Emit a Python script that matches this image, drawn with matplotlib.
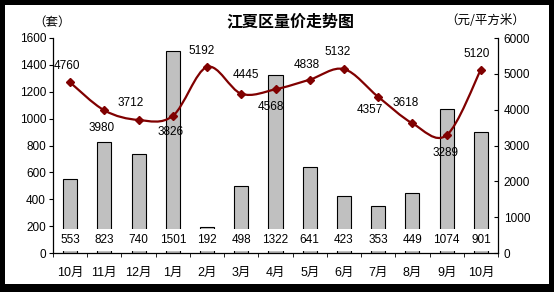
import matplotlib
matplotlib.use("Agg")
import matplotlib.pyplot as plt
from matplotlib.path import Path
from matplotlib.patches import PathPatch, Rectangle
import numpy as np

plt.rcParams['font.family'] = ['Liberation Sans', 'Noto Sans CJK SC']

months = ['10月', '11月', '12月', '1月', '2月', '3月', '4月', '5月', '6月', '7月', '8月', '9月', '10月']
volume = [553, 823, 740, 1501, 192, 498, 1322, 641, 423, 353, 449, 1074, 901]
price = [4760, 3980, 3712, 3826, 5192, 4445, 4568, 4838, 5132, 4357, 3618, 3289, 5120]
# label offsets in pixels (dx, dy with y downward)
price_off = [(-3, -16), (-3, 18), (-8, -17), (-2, 16), (-5, -16), (5, -19), (-5, 18),
             (-3, -15), (-6, -17), (-8, 13), (-7, -20), (-1, 18), (-4, -16)]

W, H = 554, 292
fig = plt.figure(figsize=(W / 100, H / 100), dpi=100)
fig.patch.set_facecolor('black')
bg = Rectangle((5 / W, (H - 284) / H), 544 / W, 279 / H,
               transform=fig.transFigure, facecolor='white', edgecolor='none', zorder=-10)
fig.patches.append(bg)

ax = fig.add_axes([53 / W, (H - 253) / H, (498 - 53) / W, (253 - 38) / H])
ax.set_facecolor('none')
n = len(months)
x = np.arange(n)
ax.bar(x, volume, width=0.41, color='#c0c0c0', edgecolor='black', linewidth=0.8, zorder=2)
ax.set_xlim(-0.5, n - 0.5)
ax.set_ylim(0, 1600)
ax.set_yticks(np.arange(0, 1601, 200))
ax.tick_params(axis='y', direction='out', length=3, labelsize=8.5, pad=2)
ax.set_xticks(x)
ax.set_xticklabels(months, fontsize=9)
ax.tick_params(axis='x', length=0, pad=10)
ax.set_xticks(np.arange(-0.5, n, 1), minor=True)
ax.tick_params(axis='x', which='minor', direction='out', length=3)
for s in ['top', 'right']:
    ax.spines[s].set_visible(False)
for s in ['left', 'bottom']:
    ax.spines[s].set_linewidth(0.9)

for xi, v in zip(x, volume):
    ax.text(xi, 100, str(v), ha='center', va='center', fontsize=8.5, zorder=5,
            bbox=dict(facecolor='white', edgecolor='none', pad=3.6))

ax2 = ax.twinx()
ax2.set_ylim(0, 6000)
ax2.set_yticks(np.arange(0, 6001, 1000))
ax2.tick_params(axis='y', direction='in', length=3, labelsize=8.5, pad=4)
for s in ['top', 'left', 'bottom']:
    ax2.spines[s].set_visible(False)
ax2.spines['right'].set_linewidth(0.9)

# smooth line through the points (Catmull-Rom style Bezier)
pts = np.column_stack([x, price]).astype(float)
verts = [tuple(pts[0])]
codes = [Path.MOVETO]
t = 1 / 6
for i in range(n - 1):
    p0 = pts[i - 1] if i > 0 else pts[i]
    p1 = pts[i]
    p2 = pts[i + 1]
    p3 = pts[i + 2] if i + 2 < n else pts[i + 1]
    c1 = p1 + (p2 - p0) * t
    c2 = p2 - (p3 - p1) * t
    verts += [tuple(c1), tuple(c2), tuple(p2)]
    codes += [Path.CURVE4] * 3
ax2.add_patch(PathPatch(Path(verts, codes), facecolor='none', edgecolor='#800000',
                        linewidth=1.6, zorder=3))
ax2.plot(x, price, linestyle='none', marker='D', markersize=4.5, color='#800000', zorder=4)

for xi, v, (dx, dy) in zip(x, price, price_off):
    ax2.annotate(str(v), (xi, v), xytext=(dx * 0.72, -dy * 0.72), textcoords='offset points',
                 ha='center', va='center', fontsize=8.5, zorder=5)

fig.text(290 / W, 1 - 21 / H, '江夏区量价走势图', ha='center', va='center',
         fontsize=11.5, fontweight='bold', family=['Noto Sans CJK SC'])
fig.text(52 / W, 1 - 22 / H, '（套）', ha='center', va='center', fontsize=9,
         family=['Noto Sans CJK SC'])
fig.text(485 / W, 1 - 20 / H, '（元/平方米）', ha='center', va='center', fontsize=9,
         family=['Noto Sans CJK SC'])

fig.savefig('out.png', dpi=100, facecolor=fig.get_facecolor())
